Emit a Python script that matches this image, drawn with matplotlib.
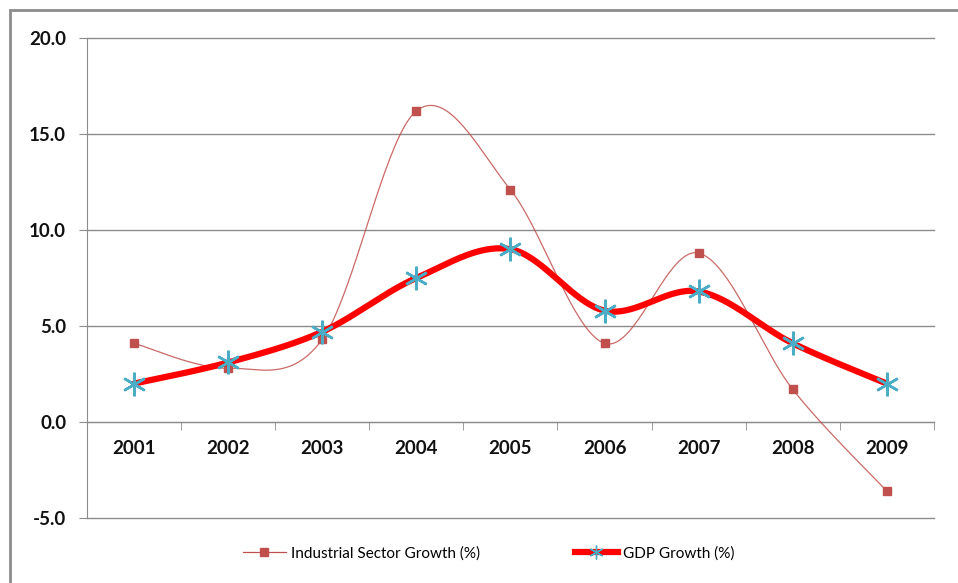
import numpy as np
import matplotlib
matplotlib.use('Agg')
import matplotlib.pyplot as plt
from matplotlib.patches import Rectangle

years = ['2001', '2002', '2003', '2004', '2005', '2006', '2007', '2008', '2009']
industrial = [4.1, 2.8, 4.3, 16.2, 12.1, 4.1, 8.8, 1.7, -3.6]
gdp = [2.0, 3.1, 4.7, 7.5, 9.0, 5.8, 6.8, 4.1, 2.0]

plt.rcParams['font.family'] = ['Lato', 'DejaVu Sans']


def smooth(vals, n=40):
    # Excel style smoothed line (bezier through the points)
    p = np.column_stack([np.arange(len(vals)), vals]).astype(float)
    p = np.vstack([p[0], p, p[-1]])
    out = []
    t = np.linspace(0, 1, n)[:, None]
    for i in range(1, len(p) - 2):
        p0, p1 = p[i], p[i + 1]
        c1 = p0 + (p[i + 1] - p[i - 1]) / 6
        c2 = p1 - (p[i + 2] - p[i]) / 6
        seg = (1 - t) ** 3 * p0 + 3 * (1 - t) ** 2 * t * c1 + 3 * (1 - t) * t ** 2 * c2 + t ** 3 * p1
        out.append(seg)
    out = np.vstack(out)
    return out[:, 0], out[:, 1]


fig = plt.figure(figsize=(9.58, 5.83), dpi=100)
ax = fig.add_axes([0.0908, 0.1115, 0.884, 0.8233])

x = np.arange(len(years))

sx, sy = smooth(industrial)
ax.plot(sx, sy, color='#C0504D', lw=0.9, alpha=0.85, zorder=3)
ax.plot(x, industrial, ls='none', marker='s', ms=6, color='#C0504D', zorder=4)

gx, gy = smooth(gdp)
ax.plot(gx, gy, color='#FF0000', lw=4.5, solid_capstyle='round', zorder=5)
ax.plot(x, gdp, ls='none', marker=(6, 2, 0), ms=17, mew=1.8, color='#4BACC6', zorder=6)

ax.set_xlim(-0.5, len(years) - 0.5)
ax.set_ylim(-5, 20)
ax.set_yticks([-5, 0, 5, 10, 15, 20])
ax.set_yticklabels(['-5.0', '0.0', '5.0', '10.0', '15.0', '20.0'])
ax.yaxis.grid(True, color='#8C8C8C', lw=1)
for gl in ax.get_ygridlines():
    gl.set_clip_on(False)
ax.set_axisbelow(True)

ax.spines['top'].set_visible(False)
ax.spines['right'].set_visible(False)
ax.spines['left'].set_color('#8C8C8C')
ax.spines['bottom'].set_position(('data', 0))
ax.spines['bottom'].set_color('#8C8C8C')

ax.set_xticks(x)
ax.set_xticklabels(years)
ax.set_xticks(np.arange(-0.5, len(years)), minor=True)
ax.tick_params(axis='x', which='major', length=0, pad=13)
ax.tick_params(axis='x', which='minor', length=6, color='#8C8C8C', direction='out')
ax.tick_params(axis='y', length=6, color='#8C8C8C', pad=9)
for lab in ax.get_xticklabels() + ax.get_yticklabels():
    lab.set_fontsize(13.5)
    lab.set_fontweight('bold')
    lab.set_color('#111111')

h1, = ax.plot([], [], color='#C0504D', lw=0.9, marker='s', ms=6)
h2, = ax.plot([], [], color='#FF0000', lw=4.5, marker=(6, 2, 0), ms=10, mew=1, mec='#4BACC6')
fig.legend([h1, h2], ['Industrial Sector Growth (%)', 'GDP Growth (%)'],
           loc='center', bbox_to_anchor=(0.51, 0.051), ncol=2, frameon=False,
           fontsize=11, handlelength=2.8, handletextpad=0.35, columnspacing=6.2)

fig.patches.append(Rectangle((10 / 958, -0.1), 1.2, 1.1 - 10 / 583 + 0.0,
                             transform=fig.transFigure, fill=False,
                             edgecolor='#8C8C8C', lw=2, figure=fig))

fig.savefig('out.png', dpi=100)
